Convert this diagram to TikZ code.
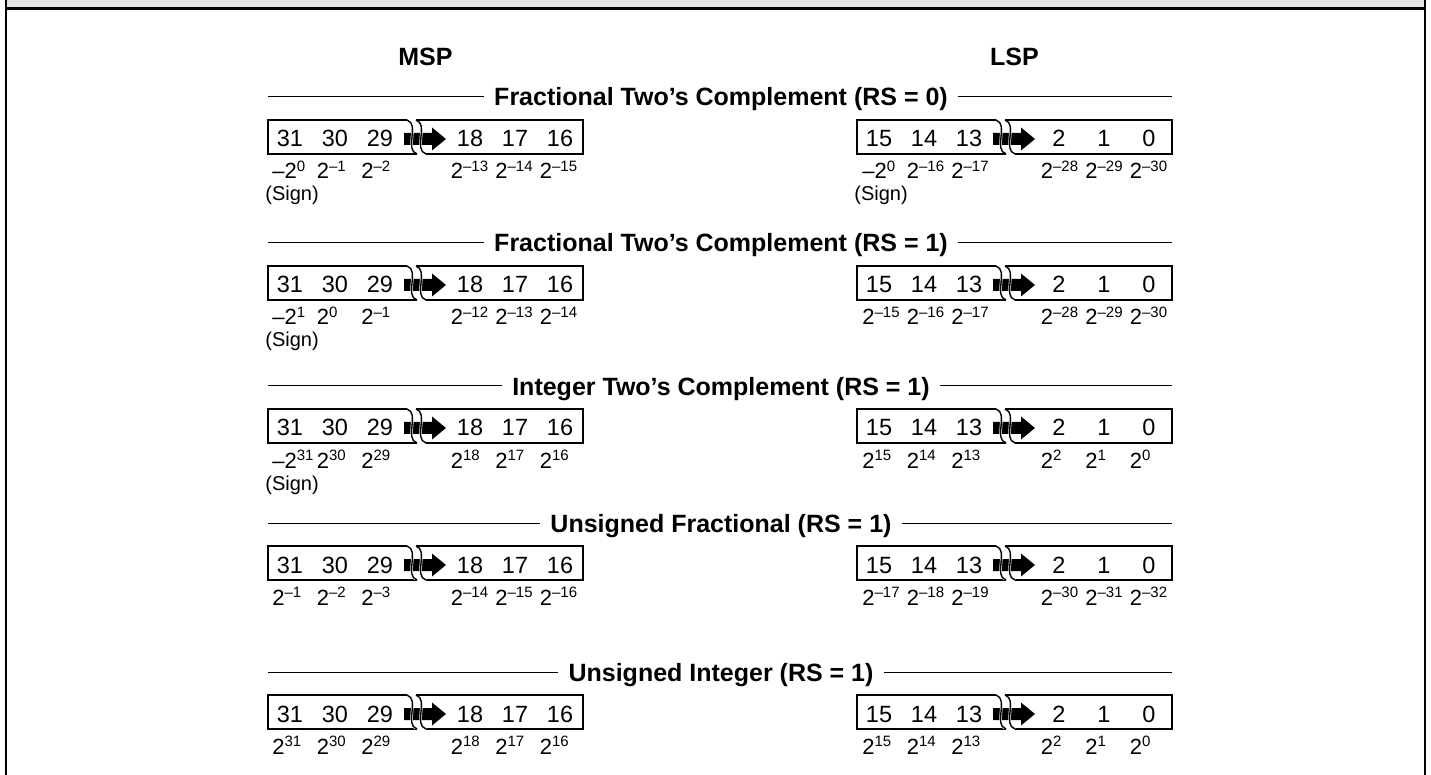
\documentclass[tikz,border=0pt]{standalone}
\usepackage{fontspec}
\setmainfont{Liberation Sans}
\newcommand{\bitw}[1]{2\raisebox{3.6pt}{\fontsize{7.5}{8}\selectfont #1}}

\begin{document}
\begin{tikzpicture}[x=0.5pt, y=-0.5pt,
headnode/.style={font=\fontsize{12.5}{15}\selectfont\bfseries, inner xsep=5pt, inner ysep=0pt, text height=9pt, text depth=0pt},
sidenode/.style={font=\fontsize{12.5}{15}\selectfont\bfseries, inner sep=0pt},
numnode/.style={font=\fontsize{11.75}{14}\selectfont, inner sep=0pt, anchor=base},
weightnode/.style={font=\fontsize{11}{13}\selectfont, inner sep=0pt, anchor=base west},
signnode/.style={font=\fontsize{10}{12}\selectfont, inner sep=0pt, anchor=base west},
boxline/.style={line width=0.9pt},
breakline/.style={line width=0.7pt},
rule/.style={line width=0.5pt},
brokenbox/.pic={
  \draw[boxline] (139,0) -- (0,0) -- (0,34) -- (149,34);
  \draw[boxline] (148,0) -- (315,0) -- (315,34) -- (158,34);
  \draw[breakline] (139,0) .. controls (152,4) and (136,30) .. (149,34);
  \draw[breakline] (148,0) .. controls (161,4) and (145,30) .. (158,34);
  \fill (136,13) -- (164,13) -- (164,7.5) -- (178,19) -- (164,30.5) -- (164,25) -- (136,25) -- cycle;
  \begin{scope}
    \clip (130,5) rectangle (185,33);
    \draw[white, line width=1.3pt] (139,0) .. controls (152,4) and (136,30) .. (149,34);
    \draw[white, line width=1.3pt] (148,0) .. controls (161,4) and (145,30) .. (158,34);
    \draw[breakline] (139,0) .. controls (152,4) and (136,30) .. (149,34);
    \draw[breakline] (148,0) .. controls (161,4) and (145,30) .. (158,34);
  \end{scope}
}]
\useasboundingbox (0,0) rectangle (1431,775);
% Frame
\fill[black!10] (6,0) rectangle (1424,8);
\draw[line width=1.35pt] (6,8.5) -- (1424,8.5);
\draw[line width=1pt] (6,0) -- (6,775);
\draw[line width=1pt] (1424.5,0) -- (1424.5,775);
% Nodes
\node[sidenode] (msp) at (425.5,57) {MSP};
\node[sidenode] (lsp) at (1014.5,57) {LSP};
\foreach \s/\H/\ttl/\mw/\lw/\ms/\ls in {
  1/97/{Fractional Two’s Complement (RS = 0)}/{–\bitw{0},\bitw{–1},\bitw{–2},\bitw{–13},\bitw{–14},\bitw{–15}}/{–\bitw{0},\bitw{–16},\bitw{–17},\bitw{–28},\bitw{–29},\bitw{–30}}/1/1,
  2/243/{Fractional Two’s Complement (RS = 1)}/{–\bitw{1},\bitw{0},\bitw{–1},\bitw{–12},\bitw{–13},\bitw{–14}}/{\bitw{–15},\bitw{–16},\bitw{–17},\bitw{–28},\bitw{–29},\bitw{–30}}/1/0,
  3/386/{Integer Two’s Complement (RS = 1)}/{–\bitw{31},\bitw{30},\bitw{29},\bitw{18},\bitw{17},\bitw{16}}/{\bitw{15},\bitw{14},\bitw{13},\bitw{2},\bitw{1},\bitw{0}}/1/0,
  4/523/{Unsigned Fractional (RS = 1)}/{\bitw{–1},\bitw{–2},\bitw{–3},\bitw{–14},\bitw{–15},\bitw{–16}}/{\bitw{–17},\bitw{–18},\bitw{–19},\bitw{–30},\bitw{–31},\bitw{–32}}/0/0,
  5/672/{Unsigned Integer (RS = 1)}/{\bitw{31},\bitw{30},\bitw{29},\bitw{18},\bitw{17},\bitw{16}}/{\bitw{15},\bitw{14},\bitw{13},\bitw{2},\bitw{1},\bitw{0}}/0/0}{
  % heading with rules
  \node[headnode] (h\s) at (721,\H) {\ttl};
  \coordinate (hl\s) at (268,\H);
  \coordinate (hr\s) at (1172,\H);
  \draw[rule] (hl\s) -- (h\s.west);
  \draw[rule] (h\s.east) -- (hr\s);
  % MSP and LSP registers
  \pic at (268,{\H+23}) {brokenbox};
  \pic at (857,{\H+23}) {brokenbox};
  \foreach \n [count=\i] in {31,30,29,18,17,16}
    \node[numnode] (nm\s-\i) at ({290+45*(\i-1)+45*(\i>3)},{\H+50}) {\n};
  \foreach \n [count=\i] in {15,14,13,2,1,0}
    \node[numnode] (nl\s-\i) at ({879+45*(\i-1)+45*(\i>3)},{\H+50}) {\n};
  \foreach \w [count=\i] in \mw
    \node[weightnode] (wm\s-\i) at ({272+44.5*(\i-1)+45*(\i>3)},{\H+82}) {\w};
  \foreach \w [count=\i] in \lw
    \node[weightnode] (wl\s-\i) at ({862+44.5*(\i-1)+45*(\i>3)},{\H+82}) {\w};
  \ifnum\ms=1 \node[signnode] (sm\s) at ([xshift=-3.5pt, yshift=-11pt]wm\s-1.base west) {(Sign)}; \fi
  \ifnum\ls=1 \node[signnode] (sl\s) at ([xshift=-4pt, yshift=-11pt]wl\s-1.base west) {(Sign)}; \fi
}
\end{tikzpicture}
\end{document}
